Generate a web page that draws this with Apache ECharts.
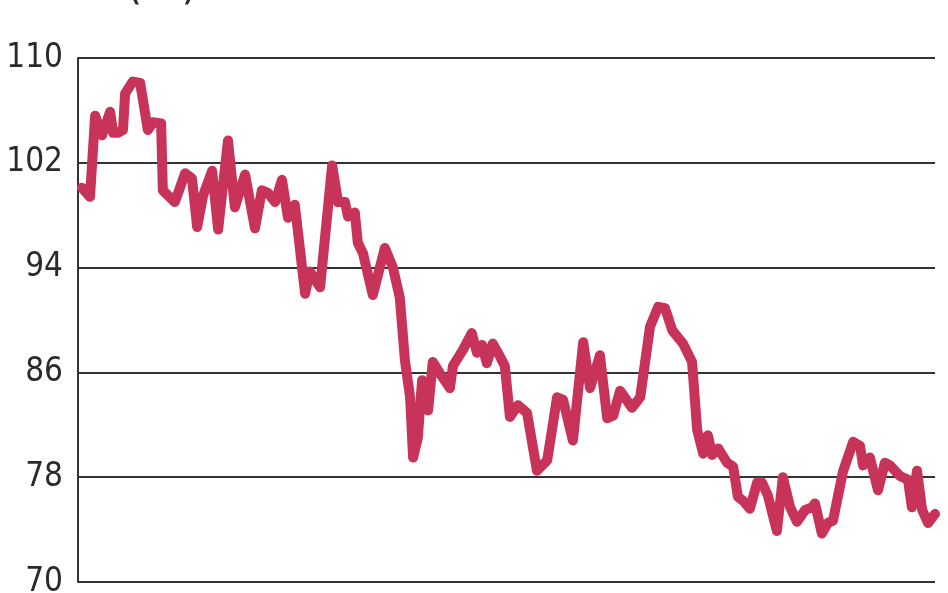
<!DOCTYPE html>
<html>
<head>
<meta charset="utf-8">
<script src="https://cdn.jsdelivr.net/npm/echarts@6/dist/echarts.min.js"></script>
<style>
html,body{margin:0;padding:0;background:#fff;}
#chart{width:948px;height:593px;}
</style>
</head>
<body>
<div id="chart"></div>
<script>
// Period index (weeks)
var periods = [0.9,2.8,4.0,5.6,7.5,8.2,9.3,10.5,11.0,12.8,14.5,16.3,17.5,19.4,19.8,22.6,25.0,26.6,27.8,29.2,31.3,32.7,35.0,36.6,39.0,41.3,42.9,44.3,46.0,47.6,49.0,50.6,53.0,54.1,56.5,59.3,60.7,62.3,63.0,64.6,65.3,66.5,68.8,71.6,73.5,75.1,76.3,77.5,78.2,79.3,80.3,81.7,82.8,84.5,86.8,87.5,89.8,91.9,93.1,94.3,95.4,96.8,98.5,99.6,100.8,102.7,104.8,107.1,109.5,111.8,113.2,115.5,117.9,119.5,121.8,123.5,124.9,126.5,129.3,131.2,133.5,135.4,137.0,138.7,141.2,143.3,144.5,145.9,147.0,148.0,149.4,151.5,152.9,154.0,155.2,156.8,158.5,159.6,161.0,163.1,164.5,166.2,167.8,169.7,171.3,172.0,173.6,175.0,176.2,178.5,180.9,182.5,183.2,184.8,186.7,188.3,189.5,191.8,193.7,194.6,195.8,197.0,198.4,200.0];
// Values (%)
var values = [100.1,99.4,105.6,104.1,105.9,104.3,104.3,104.5,107.3,108.2,108.1,104.5,105.1,105.0,99.9,99.0,101.2,100.8,97.1,99.5,101.4,96.9,103.7,98.6,101.1,97.0,99.9,99.7,99.0,100.7,97.8,98.8,92.0,93.7,92.5,101.8,99.0,99.0,97.9,98.2,95.9,95.1,91.9,95.5,94.0,91.7,86.9,84.1,79.5,81.0,85.4,83.1,86.8,85.9,84.8,86.5,87.7,89.0,87.5,88.1,86.7,88.2,87.2,86.5,82.6,83.5,82.9,78.5,79.3,84.1,83.9,80.8,88.3,84.8,87.3,82.5,82.7,84.6,83.3,84.1,89.5,91.0,90.9,89.2,88.2,86.8,81.6,79.8,81.2,79.7,80.2,79.1,78.8,76.5,76.2,75.6,77.6,77.6,76.6,73.9,78.0,75.7,74.6,75.5,75.7,76.0,73.7,74.5,74.7,78.4,80.7,80.4,78.9,79.5,77.0,79.1,78.9,78.1,77.8,75.7,78.5,75.5,74.5,75.2];
var yTicks = [70, 78, 86, 94, 102, 110];
var unitLabel = '(%)';

var seriesData = periods.map(function (p, i) { return [p, values[i]]; });

var chart = echarts.init(document.getElementById('chart'));
chart.setOption({
  animation: false,
  backgroundColor: '#ffffff',
  grid: { left: 78, right: 13, top: 58, bottom: 11, containLabel: false, outerBoundsMode: 'none' },
  graphic: [{
    type: 'text',
    left: 126,
    top: -37,
    style: {
      text: unitLabel,
      font: '46px "DejaVu Sans Condensed", sans-serif',
      fill: '#2a2a2a'
    }
  }],
  xAxis: {
    type: 'value',
    min: 0,
    max: 200,
    axisLine: { show: false },
    axisTick: { show: false },
    axisLabel: { show: false },
    splitLine: { show: false }
  },
  yAxis: {
    type: 'value',
    min: yTicks[0],
    max: yTicks[yTicks.length - 1],
    interval: 8,
    axisLine: { show: true, lineStyle: { color: '#333333', width: 2 } },
    axisTick: { show: false },
    axisLabel: {
      show: true,
      margin: 15,
      color: '#2a2a2a',
      fontSize: 33,
      fontFamily: '"DejaVu Sans Condensed", sans-serif',
      hideOverlap: false
    },
    splitLine: { show: true, lineStyle: { color: '#333333', width: 2 } }
  },
  series: [{
    type: 'line',
    data: seriesData,
    showSymbol: false,
    symbol: 'none',
    clip: false,
    lineStyle: { color: '#c8335a', width: 10, join: 'round', cap: 'round' },
    z: 5
  }]
});
</script>
</body>
</html>
